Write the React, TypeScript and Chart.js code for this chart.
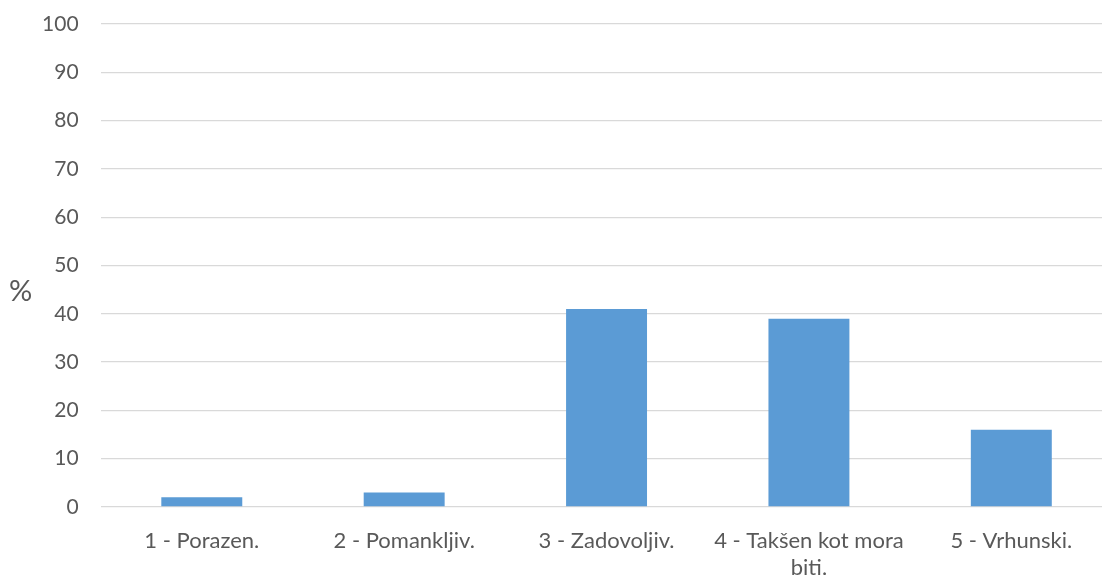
import React, { useEffect, useRef } from "react";
import { Chart, registerables } from "chart.js";

Chart.register(...registerables);

const categories: (string | string[])[] = [
  "1 - Porazen.",
  "2 - Pomankljiv.",
  "3 - Zadovoljiv.",
  ["4 - Takšen kot mora", "biti."],
  "5 - Vrhunski.",
];
const values: number[] = [2, 3, 41, 39, 16];
const yAxisTitle = "%";

const FONT = "Lato, 'Open Sans', sans-serif";
const TEXT = "#595959";

export default function App() {
  const ref = useRef<HTMLCanvasElement | null>(null);
  useEffect(() => {
    document.body.style.margin = "0";
    if (!ref.current) return;
    const titlePlugin = {
      id: "yTitle",
      afterDraw(chart: any) {
        const ctx = chart.ctx;
        ctx.save();
        ctx.fillStyle = TEXT;
        ctx.font = `29px ${FONT}`;
        ctx.textAlign = "left";
        ctx.textBaseline = "middle";
        const yScale = chart.scales.y;
        ctx.fillText(yAxisTitle, 9, yScale.getPixelForValue(45) + 2);
        ctx.restore();
      },
    };
    const chart = new Chart(ref.current, {
      type: "bar",
      data: {
        labels: categories,
        datasets: [
          {
            data: values,
            backgroundColor: "#5b9bd5",
            barPercentage: 0.4,
            categoryPercentage: 1,
          },
        ],
      },
      options: {
        animation: false,
        responsive: false,
        layout: { padding: { top: 24, right: 7.5, bottom: 0, left: 0 } },
        plugins: { legend: { display: false }, tooltip: { enabled: false } },
        scales: {
          x: {
            grid: { display: false },
            border: { display: false },
            ticks: {
              color: TEXT,
              font: { family: FONT, size: 22 },
              padding: 13,
              maxRotation: 0,
              autoSkip: false,
            },
            afterFit(scale: any) {
              scale.height = 68;
            },
          },
          y: {
            min: 0,
            max: 100,
            ticks: {
              stepSize: 10,
              color: TEXT,
              font: { family: FONT, size: 21 },
              padding: 22,
            },
            grid: { color: "#d9d9d9", lineWidth: 1.3, drawTicks: false },
            border: { display: false },
            afterFit(scale: any) {
              scale.width = 100.6;
              scale.paddingTop = 0;
              scale.paddingBottom = 0;
            },
          },
        },
      },
      plugins: [titlePlugin],
    });
    return () => chart.destroy();
  }, []);
  return (
    <div style={{ position: "relative", width: 1102, height: 575, overflow: "hidden", background: "#fff" }}>
      <canvas ref={ref} width={1120} height={575} style={{ display: "block" }} />
    </div>
  );
}
